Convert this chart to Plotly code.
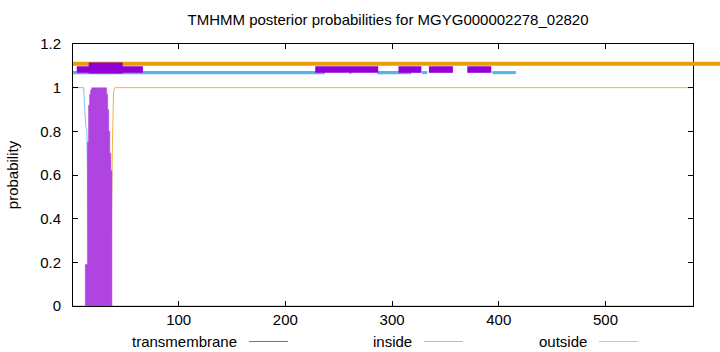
import plotly.graph_objects as go

# ---- data ----
seq_len = 582
x_ticks = [100, 200, 300, 400, 500]
y_ticks = [0, 0.2, 0.4, 0.6, 0.8, 1.0, 1.2]
y_tick_text = ["0", "0.2", "0.4", "0.6", "0.8", "1", "1.2"]

# posterior probability of "inside" (breakpoints)
inside_x = [1, 11, 12, 13, 14, 15, 16, 17, 18, 19, 20, 582]
inside_y = [1.0, 1.0, 0.9, 0.82, 0.81, 0.25, 0.08, 0.03, 0.01, 0.003, 0.0, 0.0]

# posterior probability of "outside" (breakpoints)
outside_x = [1, 32, 33, 34, 35, 36, 37, 38, 39, 40, 582]
outside_y = [0.0, 0.0, 0.03, 0.1, 0.2, 0.3, 0.4, 0.75, 0.98, 1.0, 1.0]

# posterior probability of "transmembrane" (per residue)
tm_x = list(range(12, 39))
tm_y = [0.0, 0.19, 0.19, 0.75, 0.92, 0.97, 0.99, 1.0, 1.0, 1.0, 1.0, 1.0, 1.0, 1.0,
        1.0, 1.0, 1.0, 1.0, 1.0, 1.0, 1.0, 0.97, 0.9, 0.8, 0.7, 0.62, 0.0]

# top band segments (residue start, end)
outside_band = [(1, None)]
inside_band = [(1, 237), (260, 262), (286, 318), (328, 333), (394, 416)]
tm_band = [(4.5, 66.5), (228, 287), (306, 327.5), (334.5, 357), (370.5, 393)]
tm_band_tall = [(15.7, 47.6)]

legend_labels = ["transmembrane", "inside", "outside"]

# ---- styling ----
C_TM = "#9400d3"
C_TM_FILL = "#b044e0"
C_IN = "#56b4e9"
C_OUT = "#e69f00"
C_IN_THIN = "#7cc3ec"
C_OUT_THIN = "#efb53c"
FONT = "Liberation Sans, Arial, sans-serif"
FS = 15

W, H = 720, 352
ML, MR, MT, MB = 73, 27, 44, 46
PW, PH = W - ML - MR, H - MT - MB
X0, X1 = 1, seq_len
Y0, Y1 = 0, 1.2


def px_x(px):
    return (px - ML) / PW


def px_y(py):
    return (H - MB - py) / PH


fig = go.Figure()

fig.add_trace(go.Scatter(x=inside_x, y=inside_y, mode="lines", line=dict(color=C_IN_THIN, width=1),
                         showlegend=False, hoverinfo="skip"))
fig.add_trace(go.Scatter(x=outside_x, y=outside_y, mode="lines", line=dict(color=C_OUT_THIN, width=1),
                         showlegend=False, hoverinfo="skip"))
fig.add_trace(go.Scatter(x=tm_x, y=tm_y, mode="lines", line=dict(color=C_TM_FILL, width=0.5, shape="hvh"),
                         fill="tozeroy", fillcolor=C_TM_FILL,
                         showlegend=False, hoverinfo="skip"))

shapes = []
# orange band runs past the right border, to the edge of the figure
for (a, b) in outside_band:
    shapes.append(dict(type="line", xref="paper", yref="paper",
                       x0=(a - X0) / (X1 - X0), x1=(W - ML) / PW,
                       y0=1.109 / Y1, y1=1.109 / Y1,
                       line=dict(color=C_OUT, width=4)))
for (a, b) in inside_band:
    shapes.append(dict(type="rect", xref="x", yref="y", x0=a, x1=b, y0=1.062, y1=1.076,
                       fillcolor=C_IN, line=dict(width=0)))
for (a, b) in tm_band:
    shapes.append(dict(type="rect", xref="x", yref="y", x0=a, x1=b, y0=1.068, y1=1.098,
                       fillcolor=C_TM, line=dict(width=0)))
for (a, b) in tm_band_tall:
    shapes.append(dict(type="rect", xref="x", yref="y", x0=a, x1=b, y0=1.065, y1=1.115,
                       fillcolor=C_TM, line=dict(width=0)))

# gnuplot-style key below the plot: text then line sample
annotations = []
key_colors = ["#a84ad8", "#8ec8ea", "#f0c070"]
key_text_end = [239, 414, 589]
for lab, col, te in zip(legend_labels, key_colors, key_text_end):
    annotations.append(dict(text=lab, xref="paper", yref="paper", x=px_x(te), y=px_y(341),
                            xanchor="right", yanchor="middle", showarrow=False,
                            font=dict(family=FONT, size=FS, color="#000")))
    shapes.append(dict(type="line", xref="paper", yref="paper",
                       x0=px_x(te + 10), x1=px_x(te + 49), y0=px_y(341.5), y1=px_y(341.5),
                       line=dict(color=col, width=1)))

fig.update_layout(
    width=W, height=H,
    margin=dict(l=ML, r=MR, t=MT, b=MB),
    paper_bgcolor="white", plot_bgcolor="white",
    title=dict(text="TMHMM posterior probabilities for MGYG000002278_02820",
               x=388 / W, xanchor="center", y=1 - 20 / H, yanchor="middle",
               font=dict(family=FONT, size=FS, color="#000")),
    shapes=shapes,
    annotations=annotations,
    showlegend=False,
)

fig.update_xaxes(range=[X0, X1], tickvals=x_ticks, ticktext=[str(v) for v in x_ticks],
                 showgrid=False, zeroline=False, showline=True, linecolor="#000", linewidth=1,
                 mirror="allticks", ticks="inside", ticklen=5, tickcolor="#000",
                 tickfont=dict(family=FONT, size=FS, color="#000"))
fig.update_yaxes(range=[Y0, Y1], tickvals=y_ticks, ticktext=y_tick_text,
                 showgrid=False, zeroline=False, showline=True, linecolor="#000", linewidth=1,
                 mirror="allticks", ticks="inside", ticklen=5, tickcolor="#000",
                 ticklabelstandoff=8,
                 tickfont=dict(family=FONT, size=FS, color="#000"),
                 title=dict(text="probability", standoff=17,
                            font=dict(family=FONT, size=FS, color="#000")))

fig.write_html("out.html")
